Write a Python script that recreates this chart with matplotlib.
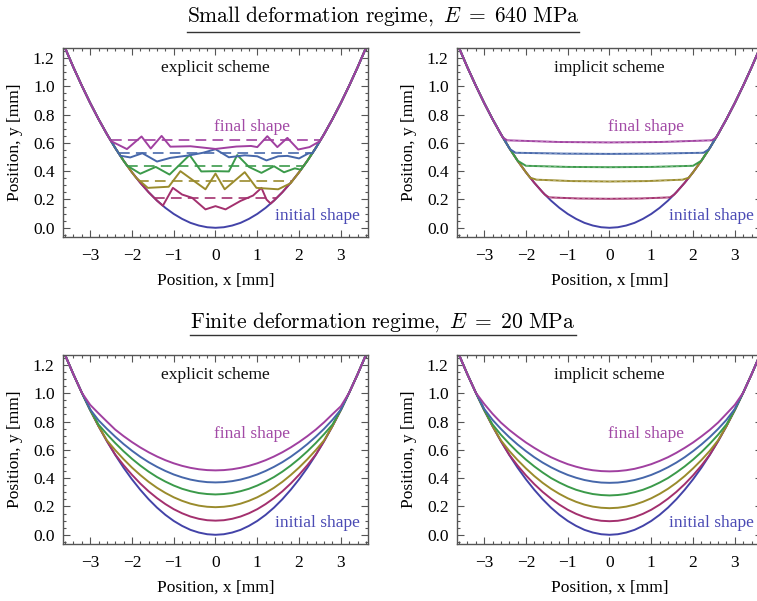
import matplotlib
matplotlib.use("Agg")
import matplotlib.pyplot as plt
from matplotlib.ticker import MultipleLocator, FormatStrFormatter
from matplotlib.lines import Line2D

plt.rcParams['font.family'] = ['Liberation Serif', 'DejaVu Serif']
plt.rcParams['mathtext.fontset'] = 'cm'

# ---------------- data ----------------
grid_x = [-3.8, -3.6, -3.4, -3.2, -3.0, -2.8, -2.6, -2.4, -2.2, -2.0, -1.8, -1.6, -1.4, -1.2, -1.0,
          -0.8, -0.6, -0.4, -0.2, 0.0, 0.2, 0.4, 0.6, 0.8, 1.0, 1.2, 1.4, 1.6, 1.8, 2.0,
          2.2, 2.4, 2.6, 2.8, 3.0, 3.2, 3.4, 3.6, 3.8]

initial_shape = [1.415, 1.270, 1.133, 1.004, 0.882, 0.768, 0.662, 0.564, 0.474, 0.392, 0.318, 0.251,
                 0.192, 0.141, 0.098, 0.063, 0.035, 0.016, 0.004, 0.000, 0.004, 0.016, 0.035, 0.063,
                 0.098, 0.141, 0.192, 0.251, 0.318, 0.392, 0.474, 0.564, 0.662, 0.768, 0.882, 1.004,
                 1.133, 1.270, 1.415]

# small deformation, explicit scheme: inner (deformed) part of each stage
small_expl_x = [
    [-1.26, -1.02, -0.80, -0.56, -0.24, 0.0, 0.24, 0.60, 0.90, 1.10, 1.22, 1.32],
    [-1.90, -1.62, -1.12, -0.84, -0.24, 0.0, 0.22, 0.70, 0.98, 1.50, 1.80, 1.90],
    [-2.12, -1.80, -1.43, -1.10, -0.62, -0.34, 0.0, 0.32, 0.52, 0.80, 1.10, 1.40, 1.64, 1.90, 2.04, 2.16],
    [-2.28, -2.04, -1.75, -1.40, -1.08, -0.64, -0.30, 0.0, 0.32, 0.70, 1.00, 1.22, 1.50, 1.72, 2.00, 2.22, 2.32],
    [-2.50, -2.12, -1.77, -1.55, -1.29, -1.08, -0.60, 0.0, 0.50, 0.85, 1.00, 1.24, 1.48, 1.72, 1.98, 2.25, 2.50],
]
small_expl_y = [
    [0.156, 0.282, 0.235, 0.212, 0.130, 0.153, 0.130, 0.190, 0.228, 0.282, 0.200, 0.171],
    [0.354, 0.282, 0.290, 0.400, 0.272, 0.383, 0.272, 0.393, 0.282, 0.272, 0.315, 0.354],
    [0.440, 0.382, 0.430, 0.376, 0.514, 0.398, 0.400, 0.398, 0.514, 0.430, 0.388, 0.435, 0.392, 0.420, 0.410, 0.457],
    [0.509, 0.497, 0.527, 0.468, 0.494, 0.511, 0.530, 0.555, 0.498, 0.512, 0.505, 0.476, 0.505, 0.508, 0.490, 0.525, 0.527],
    [0.612, 0.556, 0.645, 0.560, 0.649, 0.573, 0.576, 0.557, 0.574, 0.578, 0.570, 0.647, 0.570, 0.635, 0.553, 0.570, 0.612],
]
# dashed reference levels (explicit panel) and their half widths
ref_levels = [0.207, 0.334, 0.440, 0.525, 0.619]
ref_half_width = [1.46, 1.85, 2.12, 2.31, 2.51]

# small deformation, implicit scheme: inner part of each stage
small_impl_x = [
    [-1.55, -1.45, -0.75, 0.0, 0.75, 1.45, 1.55],
    [-1.90, -1.75, -0.90, 0.0, 0.90, 1.75, 1.90],
    [-2.20, -2.00, -1.00, 0.0, 1.00, 2.00, 2.20],
    [-2.38, -2.25, -1.10, 0.0, 1.10, 2.25, 2.38],
    [-2.55, -2.45, -1.20, 0.0, 1.20, 2.45, 2.55],
]
small_impl_y = [
    [0.235, 0.215, 0.207, 0.205, 0.207, 0.215, 0.235],
    [0.354, 0.340, 0.330, 0.327, 0.330, 0.340, 0.354],
    [0.474, 0.438, 0.430, 0.428, 0.430, 0.438, 0.474],
    [0.555, 0.530, 0.524, 0.522, 0.524, 0.530, 0.555],
    [0.637, 0.618, 0.606, 0.603, 0.606, 0.618, 0.637],
]

# finite deformation, explicit scheme (on grid_x)
finite_expl = [
    [1.415, 1.270, 1.133, 1.004, 0.882, 0.768, 0.662, 0.567, 0.492, 0.424, 0.362, 0.307, 0.259, 0.217, 0.181,
     0.152, 0.129, 0.113, 0.103, 0.100, 0.103, 0.113, 0.129, 0.152, 0.181, 0.217, 0.259, 0.307, 0.362, 0.424,
     0.492, 0.567, 0.662, 0.768, 0.882, 1.004, 1.133, 1.270, 1.415],
    [1.415, 1.270, 1.133, 1.004, 0.882, 0.768, 0.668, 0.598, 0.534, 0.475, 0.422, 0.374, 0.332, 0.296, 0.265,
     0.240, 0.220, 0.206, 0.198, 0.195, 0.198, 0.206, 0.220, 0.240, 0.265, 0.296, 0.332, 0.374, 0.422, 0.475,
     0.534, 0.598, 0.668, 0.768, 0.882, 1.004, 1.133, 1.270, 1.415],
    [1.415, 1.270, 1.133, 1.004, 0.882, 0.779, 0.711, 0.648, 0.590, 0.537, 0.489, 0.446, 0.408, 0.376, 0.348,
     0.325, 0.308, 0.295, 0.288, 0.285, 0.288, 0.295, 0.308, 0.325, 0.348, 0.376, 0.408, 0.446, 0.489, 0.537,
     0.590, 0.648, 0.711, 0.779, 0.882, 1.004, 1.133, 1.270, 1.415],
    [1.415, 1.270, 1.133, 1.004, 0.886, 0.809, 0.749, 0.693, 0.641, 0.594, 0.551, 0.513, 0.480, 0.451, 0.426,
     0.406, 0.390, 0.379, 0.372, 0.370, 0.372, 0.379, 0.390, 0.406, 0.426, 0.451, 0.480, 0.513, 0.551, 0.594,
     0.641, 0.693, 0.749, 0.812, 0.884, 1.004, 1.133, 1.270, 1.415],
    [1.415, 1.270, 1.133, 1.004, 0.918, 0.858, 0.800, 0.743, 0.697, 0.655, 0.617, 0.583, 0.553, 0.527, 0.505,
     0.487, 0.473, 0.463, 0.457, 0.455, 0.457, 0.463, 0.473, 0.487, 0.505, 0.527, 0.553, 0.583, 0.617, 0.655,
     0.697, 0.743, 0.795, 0.852, 0.908, 1.004, 1.133, 1.270, 1.415],
]
# finite deformation, implicit scheme (on grid_x)
finite_impl = [
    [1.415, 1.270, 1.133, 1.004, 0.882, 0.768, 0.662, 0.566, 0.489, 0.420, 0.358, 0.303, 0.255, 0.213, 0.177,
     0.148, 0.125, 0.109, 0.099, 0.096, 0.099, 0.109, 0.125, 0.148, 0.177, 0.213, 0.255, 0.303, 0.358, 0.420,
     0.489, 0.566, 0.662, 0.768, 0.882, 1.004, 1.133, 1.270, 1.415],
    [1.415, 1.270, 1.133, 1.004, 0.882, 0.768, 0.668, 0.593, 0.528, 0.469, 0.415, 0.367, 0.325, 0.289, 0.258,
     0.233, 0.213, 0.199, 0.191, 0.188, 0.191, 0.199, 0.213, 0.233, 0.258, 0.289, 0.325, 0.367, 0.415, 0.469,
     0.528, 0.593, 0.668, 0.768, 0.882, 1.004, 1.133, 1.270, 1.415],
    [1.415, 1.270, 1.133, 1.004, 0.882, 0.780, 0.707, 0.643, 0.584, 0.531, 0.483, 0.440, 0.401, 0.369, 0.341,
     0.318, 0.301, 0.288, 0.281, 0.278, 0.281, 0.288, 0.301, 0.318, 0.341, 0.369, 0.401, 0.440, 0.483, 0.531,
     0.584, 0.643, 0.707, 0.780, 0.882, 1.004, 1.133, 1.270, 1.415],
    [1.415, 1.270, 1.133, 1.004, 0.890, 0.812, 0.748, 0.690, 0.638, 0.591, 0.548, 0.510, 0.477, 0.448, 0.423,
     0.403, 0.387, 0.376, 0.369, 0.367, 0.369, 0.376, 0.387, 0.403, 0.423, 0.448, 0.477, 0.510, 0.548, 0.591,
     0.638, 0.690, 0.748, 0.812, 0.890, 1.004, 1.133, 1.270, 1.415],
    [1.415, 1.270, 1.133, 1.004, 0.925, 0.855, 0.793, 0.741, 0.695, 0.652, 0.614, 0.579, 0.548, 0.522, 0.499,
     0.481, 0.466, 0.456, 0.450, 0.448, 0.450, 0.456, 0.466, 0.481, 0.499, 0.522, 0.548, 0.579, 0.614, 0.652,
     0.695, 0.741, 0.793, 0.855, 0.918, 1.004, 1.133, 1.270, 1.415],
]

x_ticks = [-3, -2, -1, 0, 1, 2, 3]
y_ticks = [0.0, 0.2, 0.4, 0.6, 0.8, 1.0, 1.2]
titles = [r"$\mathrm{Small\ deformation\ regime,}\ E\;=\;640\ \mathrm{MPa}$",
          r"$\mathrm{Finite\ deformation\ regime,}\ E\;=\;20\ \mathrm{MPa}$"]
scheme_labels = ["explicit scheme", "implicit scheme"]

# ---------------- style ----------------
c_initial = '#4343a8'
stage_colors = ['#a3306e', '#9a8b2c', '#3b9a4a', '#4667aa', '#a040a0']
frame_col = '#555555'
FS = 12.5

fig = plt.figure(figsize=(7.57, 6.01), dpi=100)
W, H = 757, 601


def axes_px(left, top, width, height):
    return fig.add_axes([left / W, 1 - (top + height) / H, width / W, height / H])


def compose(ix, iy):
    xs = [x for x in grid_x if x < ix[0]] + list(ix) + [x for x in grid_x if x > ix[-1]]
    ys = ([y for x, y in zip(grid_x, initial_shape) if x < ix[0]] + list(iy)
          + [y for x, y in zip(grid_x, initial_shape) if x > ix[-1]])
    return xs, ys


def style(ax, label):
    ax.set_xlim(-3.65, 3.65)
    ax.set_ylim(-0.065, 1.27)
    ax.xaxis.set_major_locator(MultipleLocator(1))
    ax.xaxis.set_minor_locator(MultipleLocator(0.2))
    ax.yaxis.set_major_locator(MultipleLocator(0.2))
    ax.yaxis.set_minor_locator(MultipleLocator(0.05))
    ax.set_xticks(x_ticks)
    ax.set_yticks(y_ticks)
    ax.yaxis.set_major_formatter(FormatStrFormatter('%.1f'))
    ax.tick_params(which='both', direction='in', top=True, right=True, color=frame_col,
                   labelsize=FS, width=0.8)
    ax.tick_params(which='major', length=5)
    ax.tick_params(which='minor', length=2.5)
    ax.tick_params(axis='x', pad=8)
    ax.tick_params(axis='y', pad=6)
    for s in ax.spines.values():
        s.set_color(frame_col)
        s.set_linewidth(1.0)
    ax.set_xlabel("Position, x [mm]", fontsize=FS, labelpad=6)
    ax.set_ylabel("Position, y [mm]", fontsize=FS, labelpad=7)
    ax.text(0.0, 1.13, label, ha='center', va='center', fontsize=FS, color='#111111')
    ax.text(0.88, 0.71, "final shape", ha='center', va='center', fontsize=FS, color='#a24aa6')
    ax.text(2.44, 0.08, "initial shape", ha='center', va='center', fontsize=FS, color='#4a4ab4')


LW = 1.4
boxes = [(63, 48), (457, 48), (63, 355), (457, 355)]
axs = [axes_px(l, t, 305, 189) for l, t in boxes]

# panel 1: small, explicit
ax = axs[0]
ax.plot(grid_x, initial_shape, color=c_initial, lw=LW)
for k in range(5):
    L, hw = ref_levels[k], ref_half_width[k]
    ax.plot([-hw, hw], [L, L], color=stage_colors[k], lw=LW, dashes=(5.5, 3.2), alpha=0.85)
for k in range(5):
    xs, ys = compose(small_expl_x[k], small_expl_y[k])
    ax.plot(xs, ys, color=stage_colors[k], lw=LW)
style(ax, scheme_labels[0])

# panel 2: small, implicit
ax = axs[1]
ax.plot(grid_x, initial_shape, color=c_initial, lw=LW)
for k in range(5):
    xs, ys = compose(small_impl_x[k], small_impl_y[k])
    ax.plot(xs, ys, color=stage_colors[k], lw=LW)
    ax.plot(small_impl_x[k][1:-1], small_impl_y[k][1:-1], color='white', lw=0.5,
            dashes=(4, 4), alpha=0.45)
style(ax, scheme_labels[1])

# panel 3: finite, explicit
ax = axs[2]
ax.plot(grid_x, initial_shape, color=c_initial, lw=LW)
for k in range(5):
    ax.plot(grid_x, finite_expl[k], color=stage_colors[k], lw=LW)
style(ax, scheme_labels[0])

# panel 4: finite, implicit
ax = axs[3]
ax.plot(grid_x, initial_shape, color=c_initial, lw=LW)
for k in range(5):
    ax.plot(grid_x, finite_impl[k], color=stage_colors[k], lw=LW)
style(ax, scheme_labels[1])

# titles with underline
title_base = [22, 328]
underline_px = [32, 335]
fig.canvas.draw()
renderer = fig.canvas.get_renderer()
for t, yb, yu in zip(titles, title_base, underline_px):
    txt = fig.text(383 / W, 1 - yb / H, t, ha='center', va='baseline', fontsize=15.5)
    bb = txt.get_window_extent(renderer=renderer)
    fig.add_artist(Line2D([bb.x0 / W, bb.x1 / W], [1 - yu / H, 1 - yu / H],
                          color='#333333', lw=1.0, transform=fig.transFigure))

fig.savefig("out.png", dpi=100)
